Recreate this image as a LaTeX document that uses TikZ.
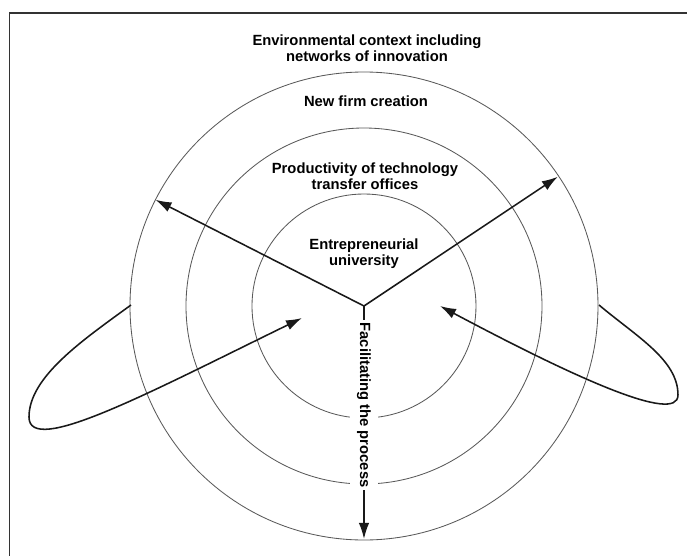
\documentclass[tikz,border=0pt]{standalone}
\usepackage{fontspec}
\setmainfont{Liberation Sans}
\usetikzlibrary{arrows.meta}
\tikzset{
    ring/.style = {draw=black!65, line width=0.6pt},
    flow/.style = {draw=black!90, line width=1.1pt, -{Latex[length=4mm,width=2.6mm]}},
    ringtext/.style = {align=center, inner sep=0pt, font=\fontsize{10.5}{11.5}\selectfont\bfseries},
    frame/.style = {draw=black!80, line width=1.1pt}}

\begin{document}
\begin{tikzpicture}[x=0.025cm,y=0.025cm]
        \useasboundingbox (-364,-249) rectangle (323,306);
        \draw[frame] (-354.5,-260) |- (335,293);
        \coordinate (O) at (0,0);
        \foreach \r in {234,178,112}
            \draw[ring] (O) circle (\r);
        \path (O)
        + (153:234) coordinate (NW)
        + (33.7:233) coordinate (NE)
        + (0,-233) coordinate (S)
        + (-233,1) coordinate (WL)
        + (-335,-111) coordinate (WT)
        + (-62,-12) coordinate (WE)
        + (235,1) coordinate (EL)
        + (314,-89) coordinate (ET)
        + (76,0) coordinate (EE);
        \node[ringtext] (env) at (3,258) {Environmental context including\\networks of innovation};
        \node[ringtext] (firm) at (2,205) {New firm creation};
        \node[ringtext] (tto) at (1,130) {Productivity of technology\\transfer offices};
        \node[ringtext] (univ) at (0,52) {Entrepreneurial\\university};
        \draw[flow] (O) -- (NW);
        \draw[flow] (O) -- (NE);
        \draw[flow] (O) -- (S) node[ringtext, pos=0.425, rotate=-90, fill=white, inner xsep=2pt, inner ysep=5pt] (facil) {Facilitating the process};
        % side loops feeding back into the centre
        \draw[flow] (WL) .. controls +(216:60) and +(90:40) .. (WT)
            .. controls +(270:40) and +(206:170) .. (WE);
        \draw[flow] (EL) .. controls +(320:50) and +(90:35) .. (ET)
            .. controls +(270:30) and +(332:150) .. (EE);
\end{tikzpicture}
\end{document}
